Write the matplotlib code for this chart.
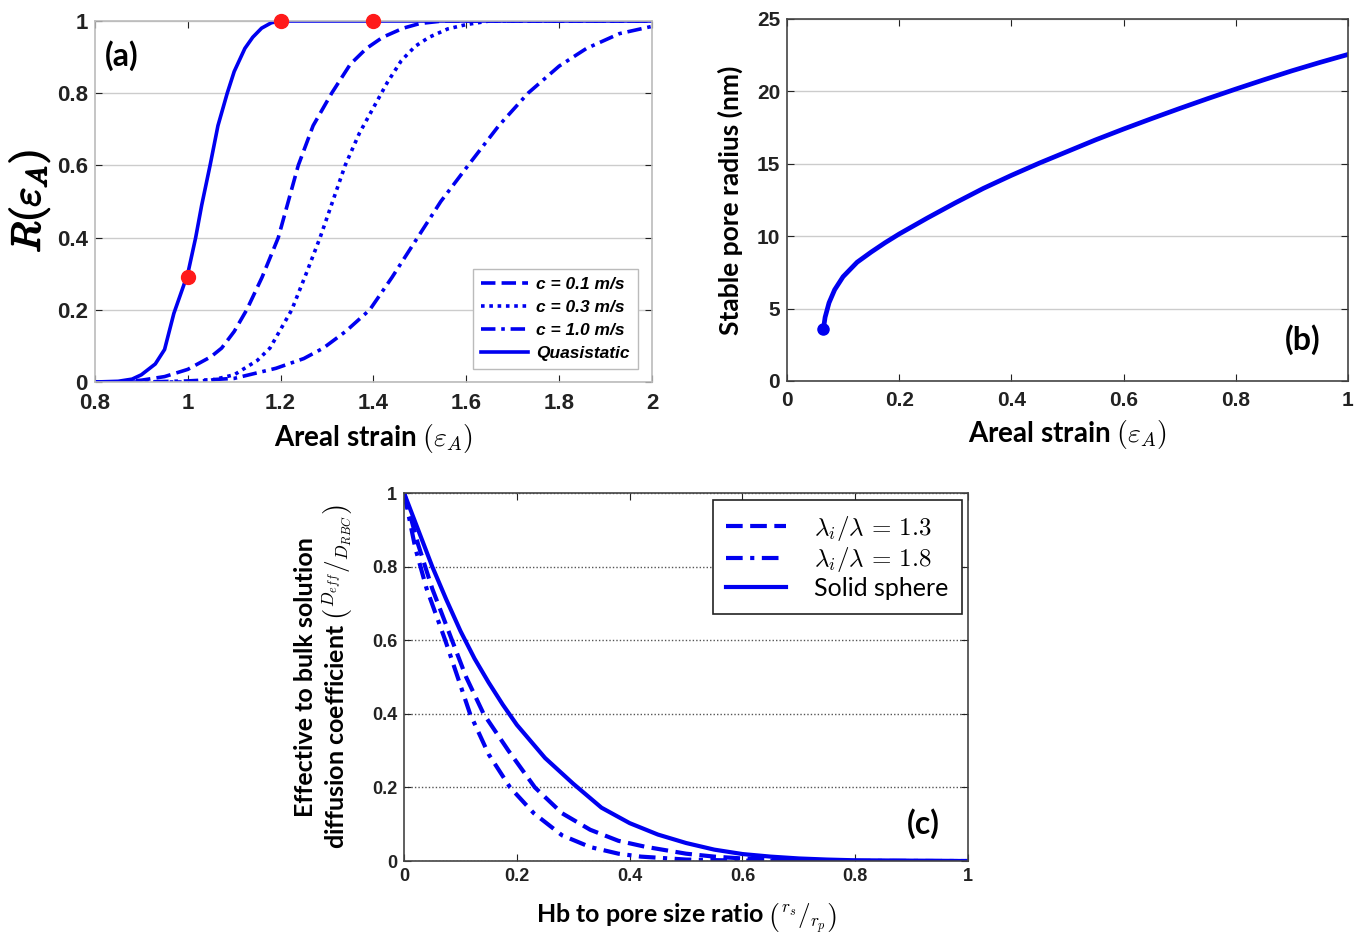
import numpy as np
import matplotlib
matplotlib.use("Agg")
import matplotlib.pyplot as plt
import matplotlib.patheffects as pe

plt.rcParams['font.family'] = ['Lato', 'DejaVu Sans']
plt.rcParams['mathtext.fontset'] = 'cm'

# -------------------------
# Data
# -------------------------
# (a) R(eps_A) vs areal strain
qs_x = [0.8, 0.85, 0.88, 0.9, 0.93, 0.95, 0.97, 1.0, 1.017, 1.03, 1.048, 1.065, 1.085, 1.1, 1.123, 1.14, 1.159, 1.18, 1.2, 2.0]
qs_y = [0.0, 0.002, 0.008, 0.02, 0.05, 0.09, 0.19, 0.3, 0.4, 0.49, 0.6, 0.71, 0.8, 0.86, 0.924, 0.955, 0.98, 0.995, 1.0, 1.0]

c01_x = [0.8, 0.85, 0.9, 0.95, 1.0, 1.05, 1.073, 1.1, 1.127, 1.16, 1.195, 1.238, 1.27, 1.31, 1.35, 1.385, 1.42, 1.464, 1.5, 1.55, 2.0]
c01_y = [0.0, 0.0, 0.005, 0.015, 0.035, 0.07, 0.094, 0.14, 0.2, 0.29, 0.4, 0.6, 0.71, 0.8, 0.88, 0.924, 0.955, 0.98, 0.993, 1.0, 1.0]

c03_x = [0.8, 1.0, 1.05, 1.1, 1.15, 1.177, 1.224, 1.255, 1.285, 1.312, 1.339, 1.37, 1.4, 1.43, 1.46, 1.49, 1.52, 1.56, 1.6, 1.65, 2.0]
c03_y = [0.0, 0.0, 0.005, 0.02, 0.06, 0.094, 0.2, 0.3, 0.4, 0.5, 0.6, 0.69, 0.76, 0.83, 0.89, 0.93, 0.955, 0.978, 0.99, 1.0, 1.0]

c10_x = [0.8, 0.9, 1.0, 1.1, 1.19, 1.25, 1.292, 1.34, 1.392, 1.44, 1.49, 1.545, 1.604, 1.67, 1.733, 1.8, 1.859, 1.93, 2.0]
c10_y = [0.0, 0.0, 0.003, 0.01, 0.038, 0.065, 0.094, 0.14, 0.2, 0.29, 0.39, 0.5, 0.6, 0.71, 0.8, 0.875, 0.924, 0.965, 0.985]

dots_x = [1.0, 1.2, 1.4]
dots_y = [0.29, 1.0, 1.0]

# (b) stable pore radius vs areal strain
pore_x = [0.065, 0.068, 0.075, 0.085, 0.1, 0.125, 0.15, 0.175, 0.2, 0.25, 0.3, 0.35, 0.4, 0.45,
          0.5, 0.55, 0.6, 0.65, 0.7, 0.75, 0.8, 0.85, 0.9, 0.95, 1.0]
pore_y = [3.6, 4.4, 5.4, 6.3, 7.2, 8.2, 8.9, 9.55, 10.15, 11.25, 12.3, 13.3, 14.2, 15.05,
          15.85, 16.65, 17.4, 18.12, 18.82, 19.5, 20.16, 20.8, 21.42, 22.0, 22.55]

# (c) effective diffusion coefficient vs size ratio
solid_x = [0.0, 0.025, 0.05, 0.075, 0.1, 0.125, 0.15, 0.175, 0.2, 0.25, 0.3, 0.35, 0.4, 0.45,
           0.5, 0.55, 0.6, 0.65, 0.7, 0.75, 0.8, 0.9, 1.0]
solid_y = [1.0, 0.9, 0.8, 0.71, 0.625, 0.55, 0.485, 0.425, 0.37, 0.28, 0.21, 0.145, 0.103, 0.072,
           0.049, 0.031, 0.019, 0.012, 0.007, 0.004, 0.002, 0.001, 0.0]
lam13_x = [0.0, 0.025, 0.05, 0.085, 0.11, 0.141, 0.185, 0.232, 0.28, 0.33, 0.38, 0.427, 0.5, 0.55, 0.6, 0.7, 0.8, 1.0]
lam13_y = [1.0, 0.86, 0.74, 0.6, 0.5, 0.4, 0.3, 0.2, 0.13, 0.085, 0.055, 0.039, 0.02, 0.012, 0.007, 0.002, 0.0, 0.0]
lam18_x = [0.0, 0.02, 0.04, 0.073, 0.095, 0.117, 0.15, 0.188, 0.23, 0.28, 0.33, 0.38, 0.42, 0.5, 0.6, 1.0]
lam18_y = [1.0, 0.85, 0.74, 0.6, 0.5, 0.4, 0.29, 0.2, 0.13, 0.07, 0.038, 0.02, 0.012, 0.004, 0.001, 0.0]

blue = '#0000f0'
lw = 2.6

fig = plt.figure(figsize=(13.66, 9.40), dpi=100)

def style_axes(ax, spine_color, tick_size, xpad=5):
    ax.tick_params(direction='in', top=True, right=True, length=5,
                   labelsize=tick_size, colors='#222222', pad=5)
    ax.tick_params(axis='x', pad=xpad)
    for lab in ax.get_xticklabels() + ax.get_yticklabels():
        lab.set_fontweight('bold')
        lab.set_family(['Liberation Sans', 'DejaVu Sans'])
    for s in ax.spines.values():
        s.set_color(spine_color)
        s.set_linewidth(1.2)

# ---- (a)
axa = fig.add_axes([0.0695, 0.5936, 0.4078, 0.3841])
axa.grid(True, axis='y', color='#cccccc', lw=1.0)
axa.set_axisbelow(True)
axa.plot(c01_x, c01_y, color=blue, lw=lw, ls=(0, (4, 1.7)), label='c = 0.1 m/s')
axa.plot(c03_x, c03_y, color=blue, lw=lw, ls=(0, (1, 1.3)), label='c = 0.3 m/s')
axa.plot(c10_x, c10_y, color=blue, lw=lw, ls=(0, (4, 1.6, 1, 1.6)), label='c = 1.0 m/s')
axa.plot(qs_x, qs_y, color=blue, lw=lw, label='Quasistatic')
axa.plot(dots_x, dots_y, 'o', color='#ff1a1a', ms=10, clip_on=False, zorder=5)
axa.set_xlim(0.8, 2)
axa.set_ylim(0, 1)
axa.set_xticks([0.8, 1, 1.2, 1.4, 1.6, 1.8, 2])
axa.set_xticklabels(['0.8', '1', '1.2', '1.4', '1.6', '1.8', '2'])
axa.set_yticks([0, 0.2, 0.4, 0.6, 0.8, 1])
axa.set_yticklabels(['0', '0.2', '0.4', '0.6', '0.8', '1'])
style_axes(axa, '#bbbbbb', 16, xpad=8)
axa.set_xlabel(r'Areal strain $(\varepsilon_A)$', fontsize=20, fontweight='bold', labelpad=6)
ylab = axa.set_ylabel(r'$R(\varepsilon_A)$', fontsize=29, labelpad=4)
ylab.set_path_effects([pe.withStroke(linewidth=1.3, foreground='black')])
axa.text(0.018, 0.905, '(a)', transform=axa.transAxes, fontsize=23, fontweight='bold', va='center')
leg = axa.legend(loc='lower right', bbox_to_anchor=(0.99, 0.012), handlelength=2.7,
                 prop={'family': ['Liberation Sans'], 'weight': 'bold', 'style': 'italic', 'size': 12.5},
                 fancybox=False, edgecolor='#bbbbbb', framealpha=1, borderpad=0.45, labelspacing=0.45,
                 handletextpad=0.5)
leg.get_frame().set_linewidth(1.0)

# ---- (b)
axb = fig.add_axes([0.5761, 0.5947, 0.4107, 0.3851])
axb.grid(True, axis='y', color='#cccccc', lw=1.0)
axb.set_axisbelow(True)
axb.plot(pore_x, pore_y, color=blue, lw=lw + 0.8)
axb.plot(pore_x[0], pore_y[0], 'o', color=blue, ms=8)
axb.set_xlim(0, 1)
axb.set_ylim(0, 25)
axb.set_xticks([0, 0.2, 0.4, 0.6, 0.8, 1])
axb.set_xticklabels(['0', '0.2', '0.4', '0.6', '0.8', '1'])
axb.set_yticks([0, 5, 10, 15, 20, 25])
style_axes(axb, '#444444', 15, xpad=7)
axb.set_xlabel(r'Areal strain $(\varepsilon_A)$', fontsize=20, fontweight='bold', labelpad=6)
axb.set_ylabel('Stable pore radius (nm)', fontsize=19, fontweight='bold', labelpad=10)
axb.text(0.92, 0.113, '(b)', transform=axb.transAxes, fontsize=23, fontweight='bold',
         ha='center', va='center')

# ---- (c)
axc = fig.add_axes([0.2958, 0.0840, 0.4129, 0.3915])
axc.grid(True, axis='y', color='#555555', lw=1.0, ls=(0, (1, 1.5)))
axc.set_axisbelow(True)
axc.plot(lam13_x, lam13_y, color=blue, lw=lw + 0.4, ls=(0, (4, 1.8)), label=r'$\lambda_i/\lambda\,=\,1.3$')
axc.plot(lam18_x, lam18_y, color=blue, lw=lw + 0.4, ls=(0, (4, 1.8, 1, 1.8)), label=r'$\lambda_i/\lambda\,=\,1.8$')
axc.plot(solid_x, solid_y, color=blue, lw=lw + 0.4, label='Solid sphere')
axc.set_xlim(0, 1)
axc.set_ylim(0, 1)
axc.set_xticks([0, 0.2, 0.4, 0.6, 0.8, 1])
axc.set_xticklabels(['0', '0.2', '0.4', '0.6', '0.8', '1'])
axc.set_yticks([0, 0.2, 0.4, 0.6, 0.8, 1])
axc.set_yticklabels(['0', '0.2', '0.4', '0.6', '0.8', '1'])
style_axes(axc, '#444444', 13)
axc.set_xlabel(r'Hb to pore size ratio $\left(^{r_s}/_{r_p}\right)$', fontsize=18,
               fontweight='bold', labelpad=12)
axc.set_ylabel('Effective to bulk solution\n' + r'diffusion coefficient $\left(^{D_{eff}}/_{D_{RBC}}\right)$',
               fontsize=18, fontweight='bold', labelpad=12)
axc.text(0.92, 0.103, '(c)', transform=axc.transAxes, fontsize=23, fontweight='bold',
         ha='center', va='center')
leg = axc.legend(loc='upper right', bbox_to_anchor=(0.989, 0.981), borderaxespad=0,
                 handlelength=2.4, prop={'family': ['Lato'], 'size': 18}, fancybox=False,
                 edgecolor='#222222', framealpha=1, borderpad=0.55, labelspacing=0.1,
                 handletextpad=1.1)
leg.get_frame().set_linewidth(1.2)

fig.savefig('out.png', dpi=100)
